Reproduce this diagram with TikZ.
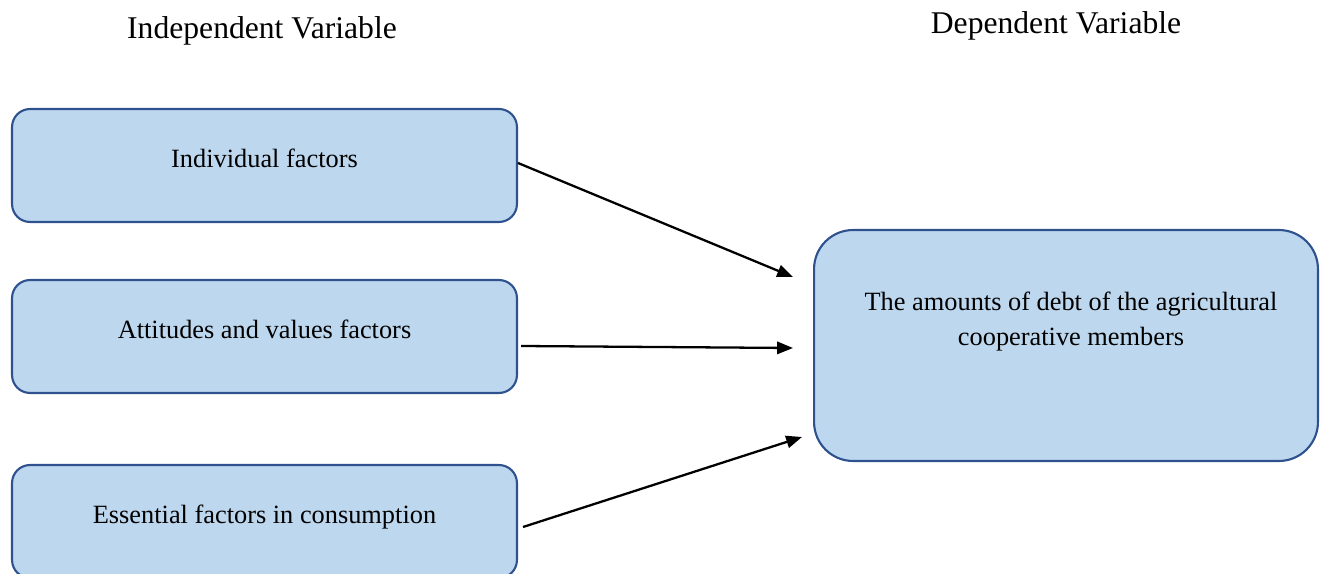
\documentclass[tikz,border=0pt]{standalone}
\usepackage{fontspec}
\setmainfont{Liberation Serif}
\usetikzlibrary{arrows.meta}
\definecolor{boxfill}{HTML}{BDD7EE}
\definecolor{boxline}{HTML}{2F528F}

\begin{document}
\begin{tikzpicture}[x=0.02cm, y=-0.02cm,
        factor/.style={rectangle, rounded corners=0.36cm, draw=boxline, line width=1.2pt, fill=boxfill,
            minimum width=10.1cm, minimum height=2.26cm, inner sep=0pt,
            font=\fontsize{15}{18}\selectfont, text height=10.5pt, text depth=8pt},
        outcome/.style={rectangle, rounded corners=0.78cm, draw=boxline, line width=1.2pt, fill=boxfill,
            minimum width=10.08cm, minimum height=4.62cm, inner sep=0pt},
        heading/.style={font=\fontsize{18}{22}\selectfont},
        link/.style={-{Triangle[length=9pt, width=7pt]}, line width=1.3pt}]
        \clip (0,0) rectangle (1322,574);

        % Headings
        \node[heading] (IV) at (262,31) {Independent Variable};
        \node[heading] (DV) at (1056,26) {Dependent Variable};

        % Nodes
        \node[factor] (A) at (264.5,165.5) {Individual factors};
        \node[factor] (B) at (264.5,336.5) {Attitudes and values factors};
        \node[factor] (C) at (264.5,521.5) {Essential factors in consumption};
        \node[outcome] (D) at (1066,345.5) {};
        \node[align=center, anchor=north, font=\fontsize{15}{19.8}\selectfont] (Dtext) at (1071,286)
            {The amounts of debt of the agricultural\\cooperative members};

        % Arrow ends
        \coordinate (a) at (793,277);
        \coordinate (b) at (793,348);
        \coordinate (c) at (802,437);

        % Arrows
        \draw[link] ([shift={(0,-2.5)}]A.east) -- (a);
        \draw[link] ([shift={(3,9.5)}]B.east) -- (b);
        \draw[link] ([shift={(5,5.5)}]C.east) -- (c);

    \end{tikzpicture}
\end{document}
